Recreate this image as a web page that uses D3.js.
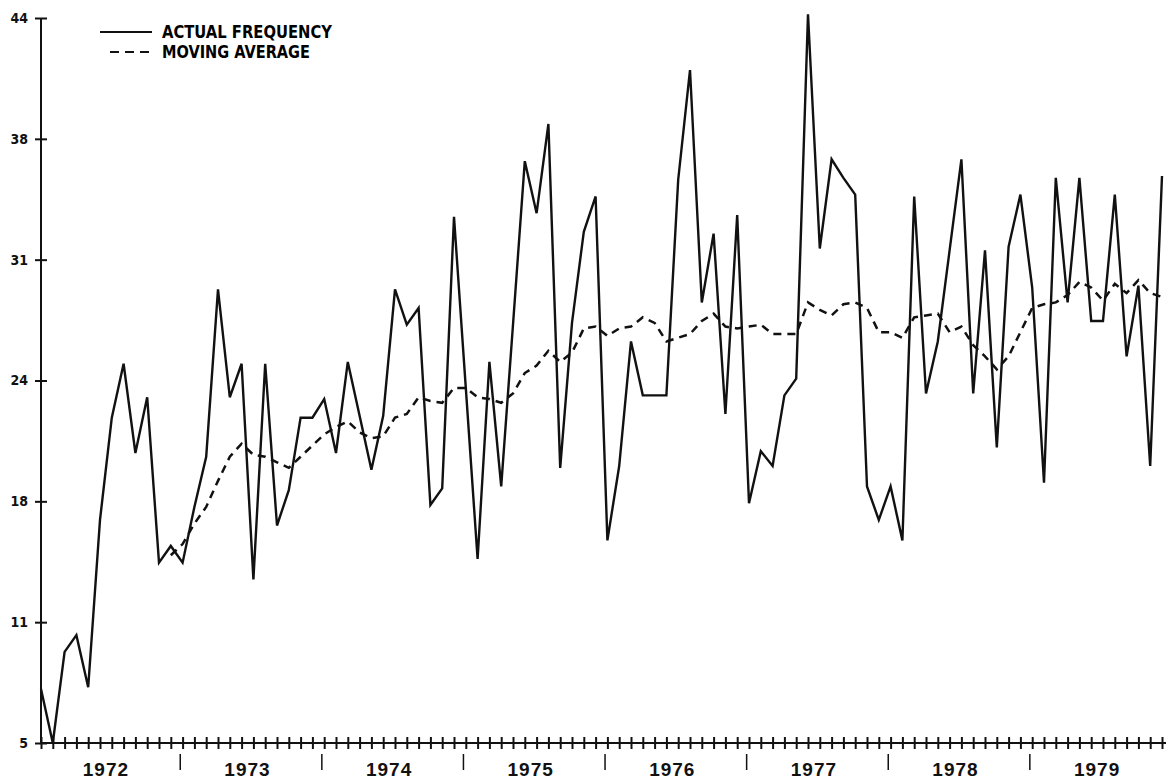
<!DOCTYPE html>
<html>
<head>
<meta charset="utf-8">
<script src="https://cdn.jsdelivr.net/npm/d3@7"></script>
<style>
  body { margin: 0; background: #fff; }
  .yLab { font-family: "DejaVu Sans Condensed", "DejaVu Sans", sans-serif; font-weight: bold; font-size: 14px; }
  .year { font-family: "Liberation Sans", Arial, sans-serif; font-weight: bold; font-size: 19px; letter-spacing: 1px; }
  .legend { font-family: "Liberation Sans Narrow", "DejaVu Sans Condensed", sans-serif; font-weight: bold; font-size: 18px; }
</style>
</head>
<body>
<div id="chart"></div>
<script>
// chart data, one value per month from jan 1972 to dec 1979
const years = ["1972", "1973", "1974", "1975", "1976", "1977", "1978", "1979"]

const actual = [
  7.9, 5.0, 9.9, 10.8, 8.0, 17.0, 22.5, 25.4, 20.6, 23.6, 14.7, 15.6,
  14.7, 17.7, 20.4, 29.4, 23.6, 25.4, 13.8, 25.4, 16.7, 18.6, 22.5, 22.5,
  23.5, 20.6, 25.5, 22.6, 19.7, 22.6, 29.4, 27.5, 28.4, 17.8, 18.7, 33.3,
  24.1, 14.9, 25.5, 18.8, 27.5, 36.3, 33.5, 38.3, 19.8, 27.6, 32.5, 34.4,
  15.9, 19.9, 26.6, 23.7, 23.7, 23.7, 35.3, 41.2, 28.7, 32.4, 22.7, 33.4,
  17.9, 20.7, 19.9, 23.7, 24.6, 44.2, 31.6, 36.4, 35.4, 34.5, 18.8, 17.0,
  18.8, 15.9, 34.4, 23.8, 26.6, 31.5, 36.4, 23.8, 31.5, 20.9, 31.7, 34.5,
  29.5, 19.0, 35.4, 28.7, 35.4, 27.7, 27.7, 34.5, 25.8, 29.6, 19.9, 35.5
]

// moving average starts with the 12th month
const movingAvg = [
  null, null, null, null, null, null, null, null, null, null, null, 15.1,
  15.7, 16.8, 17.7, 19.1, 20.4, 21.1, 20.5, 20.4, 20.1, 19.8, 20.4, 21.0,
  21.6, 22.0, 22.3, 21.7, 21.4, 21.5, 22.5, 22.7, 23.6, 23.4, 23.3, 24.1,
  24.1, 23.6, 23.5, 23.3, 23.8, 24.9, 25.3, 26.1, 25.5, 26.0, 27.3, 27.4,
  26.9, 27.3, 27.4, 27.9, 27.6, 26.6, 26.8, 27.0, 27.7, 28.1, 27.4, 27.3,
  27.4, 27.5, 27.0, 27.0, 27.0, 28.7, 28.3, 28.0, 28.6, 28.7, 28.4, 27.1,
  27.1, 26.8, 27.9, 28.0, 28.1, 27.1, 27.4, 26.4, 25.8, 25.1, 25.8, 27.1,
  28.4, 28.6, 28.7, 29.1, 29.8, 29.5, 28.8, 29.7, 29.2, 29.9, 29.2, 29.0
]

const yTicks = [5, 11.5, 18, 24.5, 31, 37.5, 44]
const yTickLabels = ["5", "11", "18", "24", "31", "38", "44"]

const width = 1166
const height = 780

// creat canvas
const svg = d3
  .select("#chart")
  .append("svg")
  .attr("width", width)
  .attr("height", height)

svg.append("rect").attr("width", width).attr("height", height).attr("fill", "#fff")

const xScale = d3.scaleLinear().domain([0, actual.length - 1]).range([41, 1162])
const yScale = d3.scaleLinear().domain([5, 44]).range([743, 18])

// left axis
const yAxis = d3
  .axisLeft(yScale)
  .tickValues(yTicks)
  .tickFormat(function(d, i) { return yTickLabels[i] })
  .tickSize(6)
  .tickPadding(7)

const yG = svg
  .append("g")
  .attr("transform", "translate(41,0)")
  .call(yAxis)
yG.select(".domain").remove()
yG.selectAll(".tick line").attr("x1", 6).attr("stroke", "#111").attr("stroke-width", 2)
yG.selectAll(".tick text").attr("class", "yLab").attr("fill", "#111")

svg
  .append("line")
  .attr("x1", 41).attr("x2", 41)
  .attr("y1", yScale(44)).attr("y2", yScale(5))
  .attr("stroke", "#111")
  .attr("stroke-width", 2)

// bottom axis, a cross tick for every month
const xAxis = d3
  .axisBottom(xScale)
  .tickValues(d3.range(actual.length))
  .tickFormat("")
  .tickSize(6)

const xG = svg
  .append("g")
  .attr("transform", "translate(0," + yScale(5) + ")")
  .call(xAxis)
xG.select(".domain").remove()
xG.selectAll(".tick line").attr("y1", -6).attr("stroke", "#111").attr("stroke-width", 2)

svg
  .append("line")
  .attr("x1", 41).attr("x2", width)
  .attr("y1", yScale(5)).attr("y2", yScale(5))
  .attr("stroke", "#111")
  .attr("stroke-width", 2)

// year separators and labels
svg
  .selectAll(".sep")
  .data(years.slice(1))
  .enter()
  .append("line")
  .attr("class", "sep")
  .attr("x1", function(d, i) { return xScale((i + 1) * 12 - 0.2) })
  .attr("x2", function(d, i) { return xScale((i + 1) * 12 - 0.2) })
  .attr("y1", 754)
  .attr("y2", 770)
  .attr("stroke", "#111")
  .attr("stroke-width", 1.5)

svg
  .selectAll(".year")
  .data(years)
  .enter()
  .append("text")
  .attr("class", "year")
  .attr("x", function(d, i) { return xScale(i * 12 + 5.5) })
  .attr("y", 776)
  .attr("text-anchor", "middle")
  .attr("fill", "#111")
  .text(function(d) { return d })

// lines
const line = d3
  .line()
  .defined(function(d) { return d !== null })
  .x(function(d, i) { return xScale(i) })
  .y(function(d) { return yScale(d) })

svg
  .append("path")
  .datum(movingAvg)
  .attr("d", line)
  .attr("fill", "none")
  .attr("stroke", "#111")
  .attr("stroke-width", 2.5)
  .attr("stroke-dasharray", "8,6")

svg
  .append("path")
  .datum(actual)
  .attr("d", line)
  .attr("fill", "none")
  .attr("stroke", "#111")
  .attr("stroke-width", 2.4)
  .attr("stroke-linejoin", "miter")

// legend
const legend = svg.append("g")
legend
  .append("line")
  .attr("x1", 100).attr("x2", 152)
  .attr("y1", 32).attr("y2", 32)
  .attr("stroke", "#111")
  .attr("stroke-width", 2)
legend
  .append("line")
  .attr("x1", 110).attr("x2", 152)
  .attr("y1", 52).attr("y2", 52)
  .attr("stroke", "#111")
  .attr("stroke-width", 2)
  .attr("stroke-dasharray", "9,6")
legend
  .append("text")
  .attr("class", "legend")
  .attr("x", 162).attr("y", 38)
  .attr("textLength", 170)
  .attr("lengthAdjust", "spacingAndGlyphs")
  .text("ACTUAL FREQUENCY")
legend
  .append("text")
  .attr("class", "legend")
  .attr("x", 162).attr("y", 58)
  .attr("textLength", 148)
  .attr("lengthAdjust", "spacingAndGlyphs")
  .text("MOVING AVERAGE")
</script>
</body>
</html>
